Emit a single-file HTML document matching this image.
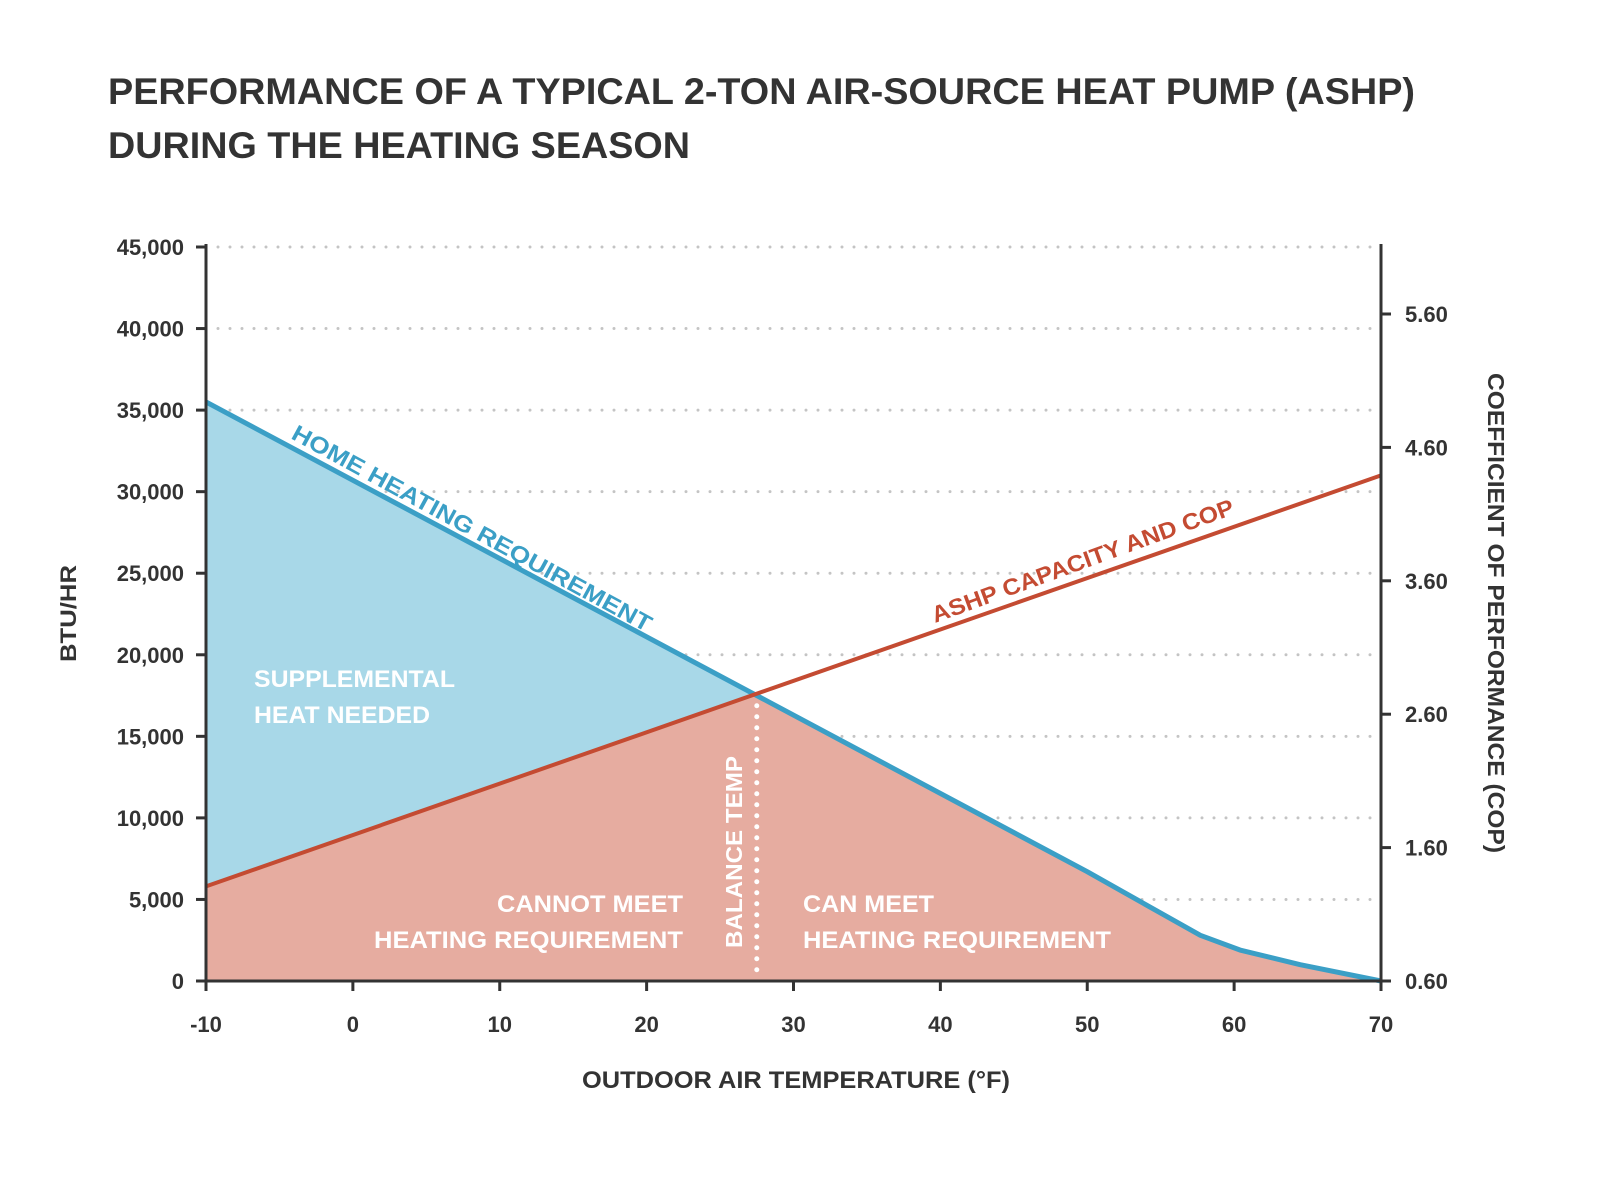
<!DOCTYPE html>
<html><head><meta charset="utf-8"><style>
body{margin:0;background:#fff}
svg{display:block;font-family:"Liberation Sans",sans-serif;font-weight:bold}
</style></head><body>
<svg id="chart" width="1600" height="1183" viewBox="0 0 1600 1183">
<text x="108" y="104" font-size="37" fill="#333" textLength="1307" lengthAdjust="spacingAndGlyphs">PERFORMANCE OF A TYPICAL 2-TON AIR-SOURCE HEAT PUMP (ASHP)</text>
<text x="108" y="158" font-size="37" fill="#333" textLength="582" lengthAdjust="spacingAndGlyphs">DURING THE HEATING SEASON</text>
<g id="grid"></g><g id="fills"></g><g id="lines"></g><g id="axes"></g><g id="labels"></g>
</svg>
<script>
const yTicks=[0,5000,10000,15000,20000,25000,30000,35000,40000,45000];
const xTicks=[-10,0,10,20,30,40,50,60,70];
const copTicks=[0.60,1.60,2.60,3.60,4.60,5.60];
const homeT=[-10,27.5,50,57.7,60.4,64.5,70];
const homeV=[35500,17500,6700,2800,1900,1000,0];
const ashpT=[-10,70];
const ashpV=[5800,31000];
const balanceTemp=27.5;
const NS="http://www.w3.org/2000/svg";
const X=t=>206+(t+10)*(1175/80);
const Y=v=>981-v*(734/45000);
const YC=c=>981-(c-0.6)*(667/5);
function mk(tag,attrs,parent,text){const e=document.createElementNS(NS,tag);for(const k in attrs)e.setAttribute(k,attrs[k]);if(text!=null)e.textContent=text;document.getElementById(parent).appendChild(e);return e;}
const ashpAt=t=>ashpV[0]+(ashpV[1]-ashpV[0])*(t-ashpT[0])/(ashpT[1]-ashpT[0]);
yTicks.forEach(v=>{if(v===0)return;const g=mk('line',{x1:218,x2:1376,y1:Y(v),y2:Y(v),stroke:'#c4c4c4','stroke-width':3,'stroke-dasharray':'0 12','stroke-linecap':'round'},'grid');

});
const homePts=homeT.map((t,i)=>X(t)+','+Y(homeV[i]));
let blue=homeT.filter(t=>t<=balanceTemp).map((t,i)=>X(t)+','+Y(homeV[i]));
blue.push(X(balanceTemp)+','+Y(ashpAt(balanceTemp)),X(-10)+','+Y(ashpAt(-10)));
const bf=mk('polygon',{points:blue.join(' '),fill:'#a8d8e8'},'fills');


let red=[X(-10)+','+Y(0),X(-10)+','+Y(ashpAt(-10)),X(balanceTemp)+','+Y(ashpAt(balanceTemp))];
homeT.forEach((t,i)=>{if(t>balanceTemp)red.push(X(t)+','+Y(homeV[i]));});
red.push(X(70)+','+Y(0));
const rf=mk('polygon',{points:red.join(' '),fill:'#e6aca0'},'fills');


const hl=mk('polyline',{points:homePts.join(' '),fill:'none',stroke:'#3b9fc6','stroke-width':5,'stroke-linejoin':'round'},'lines');


const al=mk('polyline',{points:ashpT.map((t,i)=>X(t)+','+Y(ashpV[i])).join(' '),fill:'none',stroke:'#c44b32','stroke-width':4},'lines');


const bl=mk('line',{x1:X(balanceTemp),x2:X(balanceTemp),y1:Y(ashpAt(balanceTemp))+12,y2:975,stroke:'#fff','stroke-width':5,'stroke-dasharray':'0 11','stroke-linecap':'round'},'lines');


const ax=[[206,244,206,981],[199,981,1384,981],[1381,244,1381,981]];
ax.forEach(a=>{const l=mk('line',{x1:a[0],y1:a[1],x2:a[2],y2:a[3],stroke:'#333','stroke-width':3},'axes');

});
yTicks.forEach(v=>{mk('line',{x1:196,x2:206,y1:Y(v),y2:Y(v),stroke:'#333','stroke-width':3},'axes');
const t=mk('text',{x:184,y:Y(v)+8,'text-anchor':'end','font-size':22,fill:'#333'},'labels',v.toLocaleString('en-US'));

});
xTicks.forEach(v=>{mk('line',{x1:X(v),x2:X(v),y1:981,y2:991,stroke:'#333','stroke-width':3},'axes');
const t=mk('text',{x:X(v),y:1032,'text-anchor':'middle','font-size':22,fill:'#333'},'labels',String(v));

});
copTicks.forEach(v=>{mk('line',{x1:1381,x2:1391,y1:YC(v),y2:YC(v),stroke:'#333','stroke-width':3},'axes');
const t=mk('text',{x:1405,y:YC(v)+8,'font-size':22,fill:'#333'},'labels',v.toFixed(2));

});
</script>
<svg style="position:absolute;left:0;top:0" width="1600" height="1183">
<g font-family="Liberation Sans, sans-serif" font-weight="bold">
<text x="582" y="1088" font-size="24" fill="#333" textLength="428" lengthAdjust="spacingAndGlyphs">OUTDOOR AIR TEMPERATURE (°F)</text>
<text transform="translate(76,662) rotate(-90)" font-size="22" fill="#333" textLength="97" lengthAdjust="spacingAndGlyphs">BTU/HR</text>
<text transform="translate(1488,373) rotate(90)" font-size="23" fill="#333" textLength="480" lengthAdjust="spacingAndGlyphs">COEFFICIENT OF PERFORMANCE (COP)</text>
<text transform="translate(290,438) rotate(28.6)" font-size="23" fill="#3b9fc6" textLength="406" lengthAdjust="spacingAndGlyphs">HOME HEATING REQUIREMENT</text>
<text transform="translate(935,623) rotate(-20)" font-size="23" fill="#c44b32" textLength="320" lengthAdjust="spacingAndGlyphs">ASHP CAPACITY AND COP</text>
<text font-size="24" fill="#fff"><tspan x="254" y="687" textLength="201" lengthAdjust="spacingAndGlyphs">SUPPLEMENTAL</tspan><tspan x="254" y="723" textLength="176" lengthAdjust="spacingAndGlyphs">HEAT NEEDED</tspan></text>
<text font-size="24" fill="#fff"><tspan x="497" y="912" textLength="186" lengthAdjust="spacingAndGlyphs">CANNOT MEET</tspan><tspan x="374" y="948" textLength="309" lengthAdjust="spacingAndGlyphs">HEATING REQUIREMENT</tspan></text>
<text font-size="24" fill="#fff"><tspan x="803" y="912" textLength="131" lengthAdjust="spacingAndGlyphs">CAN MEET</tspan><tspan x="803" y="948" textLength="308" lengthAdjust="spacingAndGlyphs">HEATING REQUIREMENT</tspan></text>
<text transform="translate(742,948) rotate(-90)" font-size="23" fill="#fff" textLength="192" lengthAdjust="spacingAndGlyphs">BALANCE TEMP</text>
</g></svg>
</body></html>
